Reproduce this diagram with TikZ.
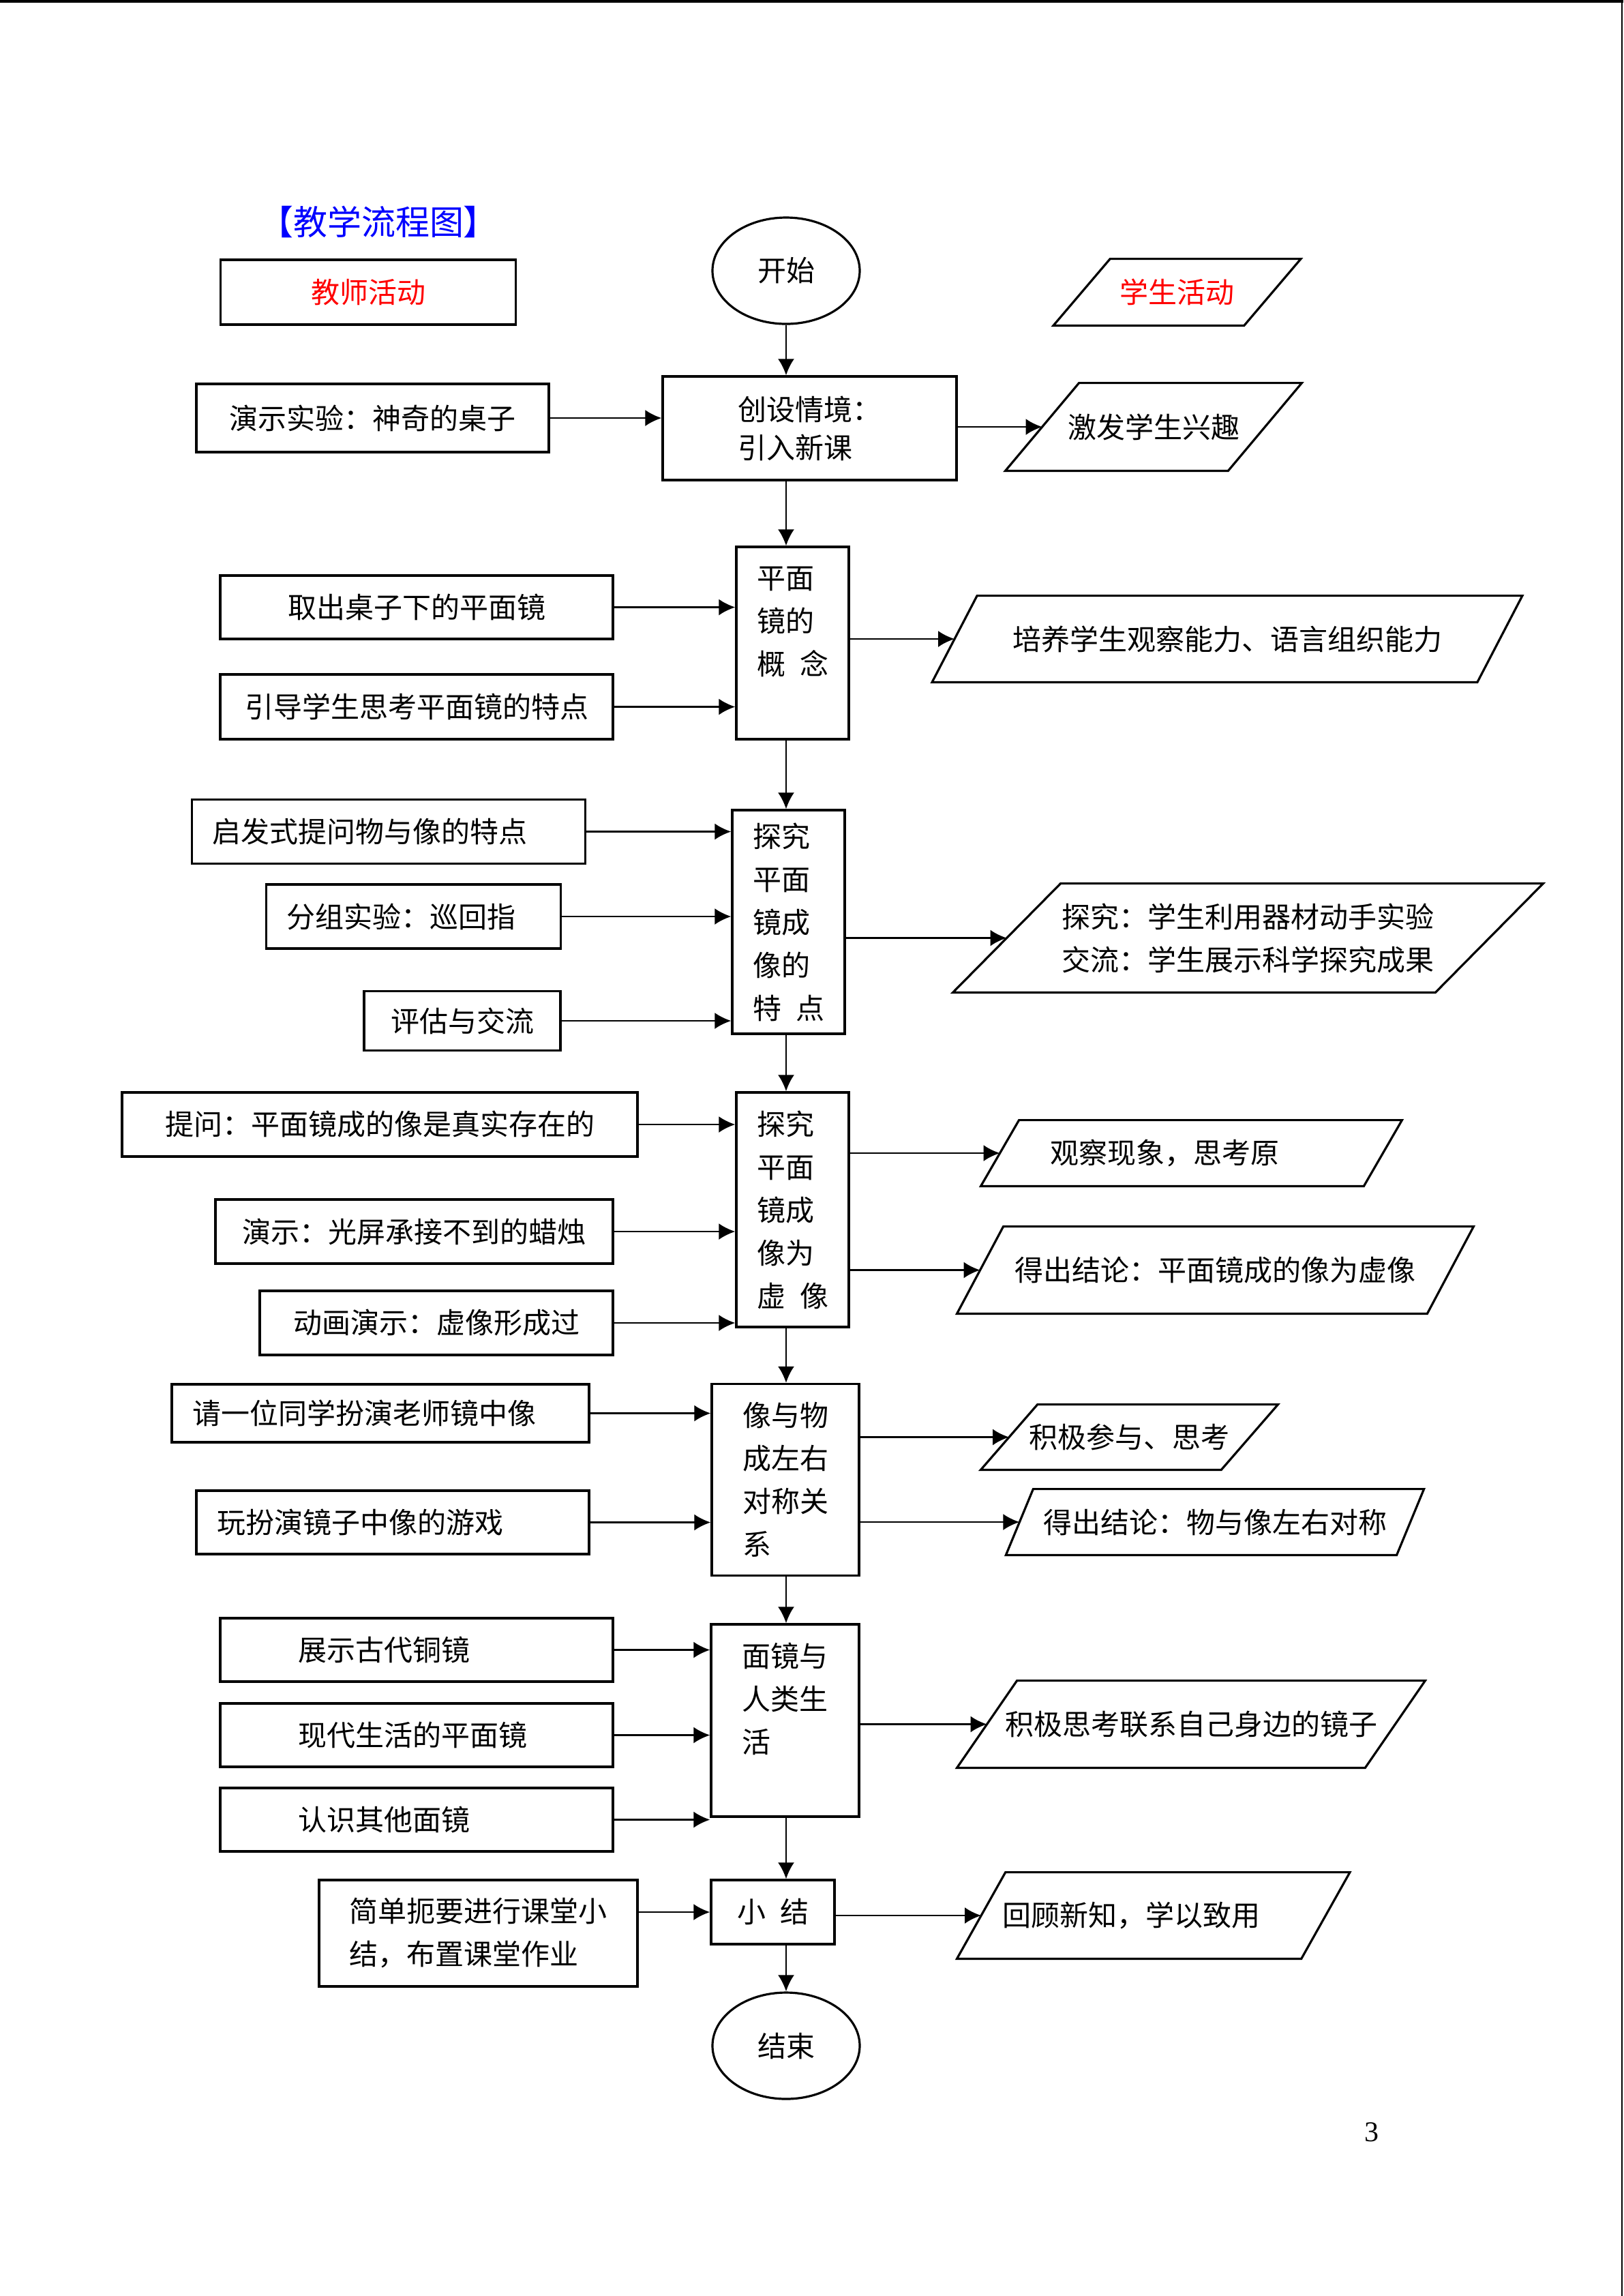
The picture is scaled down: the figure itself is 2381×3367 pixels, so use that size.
\documentclass[tikz,border=0pt]{standalone}
\usepackage{fontspec}
\setmainfont{Noto Sans CJK SC}
\newfontfamily\numfont{Liberation Serif}
\usepackage{tikz}
\usetikzlibrary{shapes,arrows.meta,positioning,calc}
\tikzstyle{heading} = [text=blue, font=\fontsize{12.5pt}{15pt}\selectfont]
\tikzstyle{term} = [ellipse, draw, line width=0.8pt, minimum width=54pt, minimum height=39pt, inner sep=0pt]
\tikzstyle{mbox} = [rectangle, draw, line width=0.8pt, align=left, inner sep=3pt]
\tikzstyle{tbox} = [rectangle, draw, line width=0.8pt, align=left, inner xsep=7.5pt]
\tikzset{io/.style={align=left, inner sep=2pt,
    append after command={\pgfextra{\draw[line width=0.8pt]
        ($(\tikzlastnode.south west)+(-#1,0)$) -- ($(\tikzlastnode.north west)+(#1,0)$) --
        ($(\tikzlastnode.north east)+(#1,0)$) -- ($(\tikzlastnode.south east)+(-#1,0)$) -- cycle;}}}}

\begin{document}
\begin{tikzpicture}[x=0.25pt, y=-0.25pt, line width=0.7pt, >={Latex[length=6pt,width=6pt]},
    font=\fontsize{10.5pt}{15.75pt}\selectfont]
    \useasboundingbox (0,0) rectangle (2381,3367);
    \draw[line width=1pt] (0,2) -- (2381,2);
    \draw[line width=0.4pt] (2379,0) -- (2379,3367);

    \node[heading] (title) at (555,325) {【教学流程图】};
    \node[tbox, minimum width=108.25pt, minimum height=23.75pt, text=red] (teacher) at (540,428.5) {教师活动};
    \node[term] (start) at (1153,397) {开始};
    \node[io=10.4pt, minimum width=69.25pt, minimum height=23.75pt, text=red] (student) at (1726.5,428.5) {学生活动};

    \node[tbox, minimum width=129.25pt, minimum height=25pt] (demo) at (546.5,613) {演示实验：神奇的桌子};
    \node[mbox, minimum width=107.75pt, minimum height=38pt, font=\fontsize{10.5pt}{14pt}\selectfont] (intro) at (1187.5,628) {创设情境：\\引入新课};
    \node[io=13.5pt, minimum width=81pt, minimum height=31.5pt] (interest) at (1692,626) {激发学生兴趣};

    \node[mbox, minimum width=41.25pt, minimum height=70.5pt] (concept) at (1162.5,943) {平面\\镜的\\概\hspace{0.5em}念\\\phantom{念}};
    \node[tbox, minimum width=144pt, minimum height=23.25pt] (takeout) at (611,890.5) {取出桌子下的平面镜};
    \node[tbox, minimum width=144pt, minimum height=23.75pt] (guide) at (611,1036.5) {引导学生思考平面镜的特点};
    \node[io=8.25pt, minimum width=199.25pt, minimum height=31pt] (ability) at (1800,937) {培养学生观察能力、语言组织能力};

    \node[mbox, minimum width=41.25pt, minimum height=82pt] (explore) at (1156.5,1352) {探究\\平面\\镜成\\像的\\特\hspace{0.5em}点};
    \node[tbox, minimum height=23.5pt, text width=129.25pt] (ask) at (570,1219.5) {启发式提问物与像的特点};
    \node[tbox, minimum height=23.5pt, text width=93pt] (group) at (606.5,1344) {分组实验：巡回指};
    \node[tbox, minimum width=72pt, minimum height=21.75pt] (assess) at (678,1497) {评估与交流};
    \node[io=19.75pt, minimum width=176.25pt, minimum height=39.25pt] (inquiry) at (1830.5,1375.5) {探究：学生利用器材动手实验\\交流：学生展示科学探究成果};

    \node[mbox, minimum width=41.25pt, minimum height=86pt] (virtual) at (1162.5,1774) {探究\\平面\\镜成\\像为\\虚\hspace{0.5em}像};
    \node[tbox, minimum width=189pt, minimum height=23.5pt] (question) at (557,1649) {提问：平面镜成的像是真实存在的};
    \node[tbox, minimum width=145.75pt, minimum height=23.5pt] (screen) at (607.5,1806) {演示：光屏承接不到的蜡烛};
    \node[tbox, minimum width=129.5pt, minimum height=23.5pt] (anim) at (640,1940) {动画演示：虚像形成过};
    \node[io=7pt, minimum height=23.5pt, inner xsep=18pt, text width=103.75pt] (observe) at (1747.5,1691) {观察现象，思考原};
    \node[io=8.5pt, minimum width=171.75pt, minimum height=31.25pt] (concl1) at (1782.5,1862.5) {得出结论：平面镜成的像为虚像};

    \node[mbox, minimum width=54pt, minimum height=70.25pt] (symm) at (1152,2170) {像与物\\成左右\\对称关\\系};
    \node[tbox, minimum height=21.25pt, text width=138pt] (invite) at (558,2072.5) {请一位同学扮演老师镜中像};
    \node[tbox, minimum height=23.25pt, text width=129pt] (game) at (576,2232.5) {玩扮演镜子中像的游戏};
    \node[io=10.4pt, minimum width=87.5pt, minimum height=23.25pt] (engage) at (1656.5,2107.5) {积极参与、思考};
    \node[io=5pt, minimum width=142.6pt, minimum height=23.5pt] (concl2) at (1782,2232) {得出结论：物与像左右对称};

    \node[mbox, minimum width=54.25pt, minimum height=70.5pt] (life) at (1151.5,2523) {面镜与\\人类生\\活\\\phantom{活}};
    \node[tbox, minimum height=23.25pt, inner xsep=28.5pt, text width=87pt] (ancient) at (611,2419.5) {展示古代铜镜};
    \node[tbox, minimum height=23.25pt, inner xsep=28.5pt, text width=87pt] (modern) at (611,2544.5) {现代生活的平面镜};
    \node[tbox, minimum height=23.25pt, inner xsep=28.5pt, text width=87pt] (others) at (611,2668.5) {认识其他面镜};
    \node[io=11pt, minimum width=149pt, minimum height=31.25pt] (think) at (1747,2528.5) {积极思考联系自己身边的镜子};

    \node[mbox, minimum width=45.25pt, minimum height=23.5pt] (summary) at (1133.5,2804) {小\hspace{0.5em}结};
    \node[tbox, minimum width=116.75pt, minimum height=39pt] (recap) at (701.5,2835) {简单扼要进行课堂小\\结，布置课堂作业};
    \node[io=8.9pt, minimum height=31pt, inner xsep=7.5pt, text width=110.6pt] (review) at (1691.75,2809) {回顾新知，学以致用};

    \node[term] (stop) at (1153,3000) {结束};
    \node[font=\numfont\fontsize{10.5pt}{12pt}\selectfont] (page) at (2012,3127) {3};

    \draw[->] (start) -- (start |- intro.north);
    \draw[->] (intro.south -| start) -- (concept.north -| start);
    \draw[->] (concept.south -| start) -- (explore.north -| start);
    \draw[->] (explore.south -| start) -- (virtual.north -| start);
    \draw[->] (virtual.south -| start) -- (symm.north -| start);
    \draw[->] (symm.south -| start) -- (life.north -| start);
    \draw[->] (life.south -| start) -- (summary.north -| start);
    \draw[->] (summary.south -| stop) -- (stop);

    \draw[->] (demo) -- (demo -| intro.west);
    \draw[->] (takeout) -- (takeout -| concept.west);
    \draw[->] (guide) -- (guide -| concept.west);
    \draw[->] (ask) -- (ask -| explore.west);
    \draw[->] (group) -- (group -| explore.west);
    \draw[->] (assess) -- (assess -| explore.west);
    \draw[->] (question) -- (question -| virtual.west);
    \draw[->] (screen) -- (screen -| virtual.west);
    \draw[->] (anim) -- (anim -| virtual.west);
    \draw[->] (invite) -- (invite -| symm.west);
    \draw[->] (game) -- (game -| symm.west);
    \draw[->] (ancient) -- (ancient -| life.west);
    \draw[->] (modern) -- (modern -| life.west);
    \draw[->] (others) -- (others -| life.west);
    \draw[->] (recap.east |- summary.west) -- (summary.west);

    \draw[->] (intro.east |- interest.west) -- (interest.west);
    \draw[->] (concept.east |- ability.west) -- (ability.west);
    \draw[->] (explore.east |- inquiry.west) -- (inquiry.west);
    \draw[->] (virtual.east |- observe.west) -- (observe.west);
    \draw[->] (virtual.east |- concl1.west) -- (concl1.west);
    \draw[->] (symm.east |- engage.west) -- (engage.west);
    \draw[->] (symm.east |- concl2.west) -- (concl2.west);
    \draw[->] (life.east |- think.west) -- (think.west);
    \draw[->] (summary.east |- review.west) -- (review.west);
\end{tikzpicture}
\end{document}
